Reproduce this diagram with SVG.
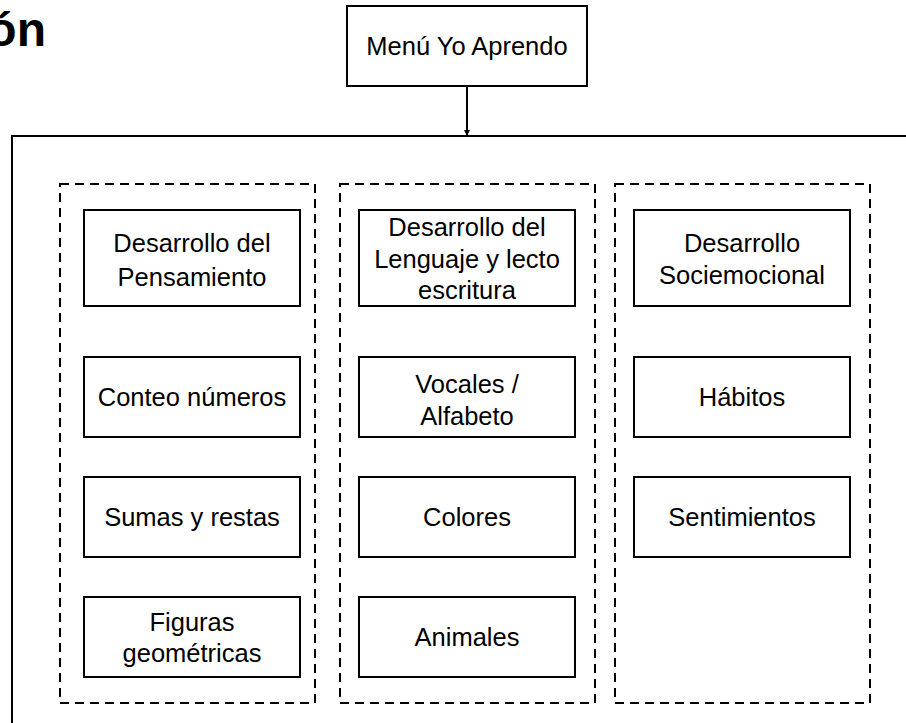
<svg xmlns="http://www.w3.org/2000/svg" width="906" height="723" viewBox="0 0 906 723">
<style>
.box{fill:#fff;stroke:#000;stroke-width:2}
.dash{fill:none;stroke:#000;stroke-width:2;stroke-dasharray:9 6}
.t{font-family:"Liberation Sans",Arial,sans-serif;font-size:25.5px;fill:#000;text-anchor:middle}
.title{font-family:"Liberation Sans",Arial,sans-serif;font-size:48px;font-weight:bold;fill:#000;text-anchor:end}
.conn{fill:none;stroke:#000;stroke-width:2}
</style>
<defs>
<marker id="ah" markerWidth="6" markerHeight="6" refX="5" refY="3" orient="auto" markerUnits="userSpaceOnUse">
<path d="M0,0 L6,3 L0,6 Z" fill="#000"/>
</marker>
</defs>
<rect width="906" height="723" fill="#fff"/>
<text class="title" x="46" y="46">ón</text>

<g id="contenedor">
<rect x="12" y="136" width="1000" height="700" fill="none" stroke="#000" stroke-width="2"/>
</g>

<g id="connectors">
<line class="conn" x1="467" y1="86" x2="467" y2="135" marker-end="url(#ah)"/>
</g>

<g id="menu">
<rect class="box" x="347" y="6" width="240" height="80"/>
<text class="t" x="467" y="55">Menú Yo Aprendo</text>
</g>

<g id="grupo-pensamiento">
<rect class="dash" x="60" y="184" width="255" height="519"/>
</g>
<g id="grupo-lenguaje">
<rect class="dash" x="340" y="184" width="255" height="519"/>
</g>
<g id="grupo-socioemocional">
<rect class="dash" x="615" y="184" width="255" height="519"/>
</g>

<g id="desarrollo-pensamiento">
<rect class="box" x="84" y="210" width="216" height="96"/>
<text class="t" x="192" y="252">Desarrollo del</text>
<text class="t" x="192" y="286">Pensamiento</text>
</g>
<g id="conteo-numeros">
<rect class="box" x="84" y="357" width="216" height="80"/>
<text class="t" x="192" y="406">Conteo números</text>
</g>
<g id="sumas-restas">
<rect class="box" x="84" y="477" width="216" height="80"/>
<text class="t" x="192" y="526">Sumas y restas</text>
</g>
<g id="figuras-geometricas">
<rect class="box" x="84" y="597" width="216" height="80"/>
<text class="t" x="192" y="631">Figuras</text>
<text class="t" x="192" y="662">geométricas</text>
</g>

<g id="desarrollo-lenguaje">
<rect class="box" x="359" y="210" width="216" height="96"/>
<text class="t" x="467" y="236">Desarrollo del</text>
<text class="t" x="467" y="268">Lenguaje y lecto</text>
<text class="t" x="467" y="299">escritura</text>
</g>
<g id="vocales-alfabeto">
<rect class="box" x="359" y="357" width="216" height="80"/>
<text class="t" x="467" y="393">Vocales /</text>
<text class="t" x="467" y="425">Alfabeto</text>
</g>
<g id="colores">
<rect class="box" x="359" y="477" width="216" height="80"/>
<text class="t" x="467" y="526">Colores</text>
</g>
<g id="animales">
<rect class="box" x="359" y="597" width="216" height="80"/>
<text class="t" x="467" y="646">Animales</text>
</g>

<g id="desarrollo-socioemocional">
<rect class="box" x="634" y="210" width="216" height="96"/>
<text class="t" x="742" y="252">Desarrollo</text>
<text class="t" x="742" y="284">Sociemocional</text>
</g>
<g id="habitos">
<rect class="box" x="634" y="357" width="216" height="80"/>
<text class="t" x="742" y="406">Hábitos</text>
</g>
<g id="sentimientos">
<rect class="box" x="634" y="477" width="216" height="80"/>
<text class="t" x="742" y="526">Sentimientos</text>
</g>
</svg>
